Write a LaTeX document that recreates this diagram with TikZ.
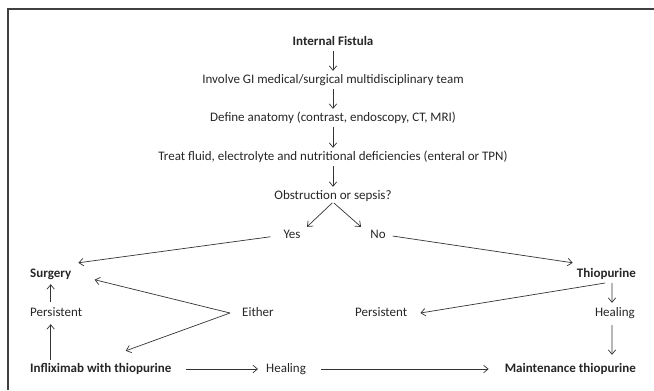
\documentclass[tikz,border=0pt]{standalone}
\usepackage{fontspec}
\setmainfont{Carlito}
\usetikzlibrary{arrows.meta}
\begin{document}
\begin{tikzpicture}[x=1bp,y=-1bp,
  txt/.style={inner sep=0pt, text height=9bp, text depth=3bp, font=\fontsize{13bp}{15bp}\selectfont, text=black!85},
  bold/.style={txt, font=\fontsize{13bp}{15bp}\selectfont\bfseries},
  arr/.style={draw=black!80, line width=0.7bp, -{Straight Barb[length=4.5bp,width=7.5bp]}},
  ln/.style={draw=black!80, line width=0.7bp},
  frame/.style={draw=black!75, line width=1.5bp}]
\useasboundingbox (0,0) rectangle (654,390);
\draw[frame] (654,9) -- (8,9) -- (8,390);

\node[bold] (fist) at (333,42) {Internal Fistula};
\node[txt] (inv) at (333,80) {Involve GI medical/surgical multidisciplinary team};
\node[txt] (def) at (333,118) {Define anatomy (contrast, endoscopy, CT, MRI)};
\node[txt] (treat) at (333,157) {Treat fluid, electrolyte and nutritional deficiencies (enteral or TPN)};
\node[txt] (obs) at (333,196) {Obstruction or sepsis?};
\node[txt] (yes) at (292,235) {Yes};
\node[txt] (no) at (378,235) {No};
\node[bold, anchor=west] (surg) at (30,274) {Surgery};
\node[bold, anchor=east] (thio) at (636,274) {Thiopurine};
\node[txt, anchor=west] (perL) at (30,313) {Persistent};
\node[txt, anchor=west] (either) at (242,313) {Either};
\node[txt, anchor=west] (perR) at (355,313) {Persistent};
\node[txt, anchor=east] (healR) at (635,313) {Healing};
\node[bold, anchor=west] (infl) at (30,369) {Infliximab with thiopurine};
\node[txt, anchor=west] (healM) at (266,369) {Healing};
\node[bold, anchor=east] (maint) at (636,369) {Maintenance thiopurine};

\draw[arr, shorten <=3bp, shorten >=3bp] (fist.south) -- (inv.north);
\draw[arr, shorten <=3bp, shorten >=3bp] (inv.south) -- (def.north);
\draw[arr, shorten <=3bp, shorten >=3bp] (def.south) -- (treat.north);
\draw[arr, shorten <=3bp, shorten >=3bp] (treat.south) -- (obs.north);
\draw[arr, shorten <=1bp] (obs.south) -- ([xshift=15bp,yshift=2bp]yes.north);
\draw[arr, shorten <=1bp] (obs.south) -- ([xshift=-17bp,yshift=2bp]no.north);
\draw[arr, shorten <=13bp] (yes.west) -- ([xshift=7bp,yshift=5bp]surg.north east);
\draw[arr, shorten <=7bp] (no.east) -- ([xshift=-4bp,yshift=5bp]thio.north west);
\draw[arr, shorten <=3bp, shorten >=4bp] ([xshift=-24bp]thio.south east) -- ([xshift=-23bp]healR.north east);
\draw[arr, shorten <=5bp] ([xshift=-26bp,yshift=-2bp]thio.south east) -- ([xshift=13bp]perR.east);
\draw[arr, shorten <=6bp, shorten >=8bp] ([xshift=-23bp]healR.south east) -- ([xshift=-24bp]maint.north east);
\draw[arr, shorten <=5bp, shorten >=4bp] (perL.north -| surg.south) -- (surg.south);
\draw[arr, shorten <=3bp, shorten >=5bp] (infl.north -| surg.south) -- (perL.south -| surg.south);
\coordinate (apex) at ([xshift=-12bp]either.west);
\draw[arr, shorten >=24bp] (apex) -- (surg.east);
\draw[arr] (apex) -- ([xshift=25bp,yshift=12bp]infl.north);
\draw[arr, shorten <=15bp, shorten >=8bp] (infl.east) -- (healM.west);
\draw[arr, shorten <=15bp, shorten >=16bp] (healM.east) -- (maint.west);
\end{tikzpicture}
\end{document}
